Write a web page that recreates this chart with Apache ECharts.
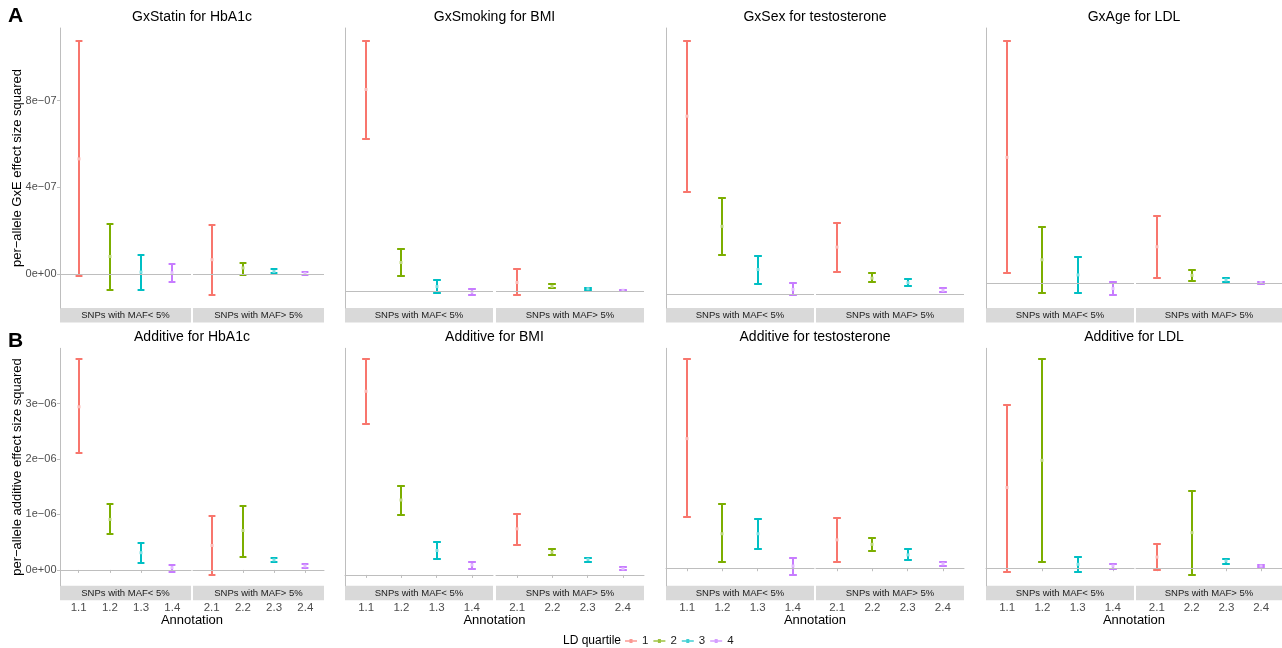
<!DOCTYPE html>
<html>
<head>
<meta charset="utf-8">
<script src="https://cdn.jsdelivr.net/npm/echarts@6/dist/echarts.min.js"></script>
<style>
html,body{margin:0;padding:0;background:#fff;}
#chart{width:1282px;height:648px;}
</style>
</head>
<body>
<div id="chart"></div>
<script>
// ---------- data ----------
const catsLowMAF = ['1.1', '1.2', '1.3', '1.4'];
const catsHighMAF = ['2.1', '2.2', '2.3', '2.4'];
const stripLabels = ['SNPs with MAF< 5%', 'SNPs with MAF> 5%'];
const ldQuartiles = ['1', '2', '3', '4'];

const gxStatinLo  = [-0.09e-7, -0.72e-7, -0.72e-7, -0.35e-7, -0.98e-7, -0.03e-7, 0.03e-7, -0.05e-7];
const gxStatinMid = [5.31e-7, 0.81e-7, 0.09e-7, 0.06e-7, 0.66e-7, 0.28e-7, 0.12e-7, 0.03e-7];
const gxStatinHi  = [10.76e-7, 2.31e-7, 0.89e-7, 0.44e-7, 2.26e-7, 0.53e-7, 0.21e-7, 0.09e-7];

const gxSmokingLo  = [6.99e-7, 0.67e-7, -0.11e-7, -0.17e-7, -0.20e-7, 0.12e-7, 0.05e-7, -0.02e-7];
const gxSmokingMid = [9.29e-7, 1.31e-7, 0.20e-7, -0.05e-7, 0.39e-7, 0.21e-7, 0.10e-7, 0.03e-7];
const gxSmokingHi  = [11.54e-7, 1.95e-7, 0.49e-7, 0.07e-7, 0.99e-7, 0.30e-7, 0.14e-7, 0.06e-7];

const gxSexLo  = [4.71e-7, 1.82e-7, 0.44e-7, -0.06e-7, 1.02e-7, 0.53e-7, 0.35e-7, 0.09e-7];
const gxSexMid = [8.20e-7, 3.12e-7, 1.13e-7, 0.21e-7, 2.16e-7, 0.73e-7, 0.52e-7, 0.17e-7];
const gxSexHi  = [11.68e-7, 4.42e-7, 1.77e-7, 0.49e-7, 3.29e-7, 0.95e-7, 0.67e-7, 0.26e-7];

const gxAgeLo  = [0.47e-7, -0.43e-7, -0.43e-7, -0.54e-7, 0.26e-7, 0.11e-7, 0.07e-7, 0.00];
const gxAgeMid = [5.83e-7, 1.10e-7, 0.40e-7, -0.23e-7, 1.70e-7, 0.38e-7, 0.17e-7, 0.05e-7];
const gxAgeHi  = [11.22e-7, 2.63e-7, 1.22e-7, 0.07e-7, 3.14e-7, 0.62e-7, 0.26e-7, 0.07e-7];

const addHbA1cLo  = [2.11e-6, 0.65e-6, 0.13e-6, -0.04e-6, -0.09e-6, 0.23e-6, 0.14e-6, 0.04e-6];
const addHbA1cMid = [2.94e-6, 0.91e-6, 0.31e-6, 0.04e-6, 0.44e-6, 0.71e-6, 0.18e-6, 0.07e-6];
const addHbA1cHi  = [3.80e-6, 1.18e-6, 0.49e-6, 0.09e-6, 0.97e-6, 1.16e-6, 0.22e-6, 0.11e-6];

const addBMILo  = [2.72e-6, 1.08e-6, 0.28e-6, 0.11e-6, 0.54e-6, 0.36e-6, 0.24e-6, 0.08e-6];
const addBMIMid = [3.31e-6, 1.35e-6, 0.44e-6, 0.18e-6, 0.83e-6, 0.41e-6, 0.28e-6, 0.11e-6];
const addBMIHi  = [3.89e-6, 1.61e-6, 0.59e-6, 0.24e-6, 1.09e-6, 0.47e-6, 0.31e-6, 0.14e-6];

const addTestoLo  = [0.92e-6, 0.12e-6, 0.35e-6, -0.12e-6, 0.12e-6, 0.31e-6, 0.15e-6, 0.04e-6];
const addTestoMid = [2.33e-6, 0.62e-6, 0.62e-6, 0.04e-6, 0.51e-6, 0.43e-6, 0.24e-6, 0.08e-6];
const addTestoHi  = [3.76e-6, 1.15e-6, 0.89e-6, 0.19e-6, 0.91e-6, 0.55e-6, 0.34e-6, 0.12e-6];

const addLDLLo  = [-0.06e-6, 0.12e-6, -0.06e-6, -0.02e-6, -0.04e-6, -0.12e-6, 0.08e-6, 0.02e-6];
const addLDLMid = [1.45e-6, 1.94e-6, 0.07e-6, 0.04e-6, 0.20e-6, 0.64e-6, 0.13e-6, 0.04e-6];
const addLDLHi  = [2.94e-6, 3.76e-6, 0.20e-6, 0.08e-6, 0.44e-6, 1.39e-6, 0.17e-6, 0.06e-6];

const rowATicks = [0, 4e-7, 8e-7];
const rowBTicks = [0, 1e-6, 2e-6, 3e-6];
const rowYTitles = ['per\u2212allele GxE effect size squared', 'per\u2212allele additive effect size squared'];
const rowLetters = ['A', 'B'];

// ---------- layout & style ----------
const colors = ['#F8766D', '#7CAE00', '#00BFC4', '#C77CFF'];
const pointColors = ['#FCBAB6', '#BED780', '#80DFE2', '#E3BEFF'];
const axisGrey = '#BEBEBE';
const FONT = 'Liberation Sans, Arial, Helvetica, sans-serif';
const colX = [[60, 191, 193, 324], [345, 493, 496, 644], [666, 814, 816, 964], [986, 1134, 1136, 1282]];
const rowY = [[28, 308], [348.3, 585.7]];
const stripH = 14.5;
const titleY = [16.7, 336.7];
const capWidth = 0.22;

const panels = [
  {title: 'GxStatin for HbA1c', lo: gxStatinLo, mid: gxStatinMid, hi: gxStatinHi, row: 0, col: 0},
  {title: 'GxSmoking for BMI', lo: gxSmokingLo, mid: gxSmokingMid, hi: gxSmokingHi, row: 0, col: 1},
  {title: 'GxSex for testosterone', lo: gxSexLo, mid: gxSexMid, hi: gxSexHi, row: 0, col: 2},
  {title: 'GxAge for LDL', lo: gxAgeLo, mid: gxAgeMid, hi: gxAgeHi, row: 0, col: 3},
  {title: 'Additive for HbA1c', lo: addHbA1cLo, mid: addHbA1cMid, hi: addHbA1cHi, row: 1, col: 0},
  {title: 'Additive for BMI', lo: addBMILo, mid: addBMIMid, hi: addBMIHi, row: 1, col: 1},
  {title: 'Additive for testosterone', lo: addTestoLo, mid: addTestoMid, hi: addTestoHi, row: 1, col: 2},
  {title: 'Additive for LDL', lo: addLDLLo, mid: addLDLMid, hi: addLDLHi, row: 1, col: 3}
];

function sci(v) {
  if (Math.abs(v) < 1e-15) return '0e+00';
  const parts = v.toExponential(0).split('e');
  const n = parseInt(parts[1], 10);
  return parts[0] + 'e' + (n < 0 ? '\u2212' : '+') + String(Math.abs(n)).padStart(2, '0');
}

function renderErrorBar(params, api) {
  const x = api.value(0), lo = api.value(1), mid = api.value(2), hi = api.value(3);
  const pLo = api.coord([x, lo]);
  const pHi = api.coord([x, hi]);
  const pMid = api.coord([x, mid]);
  const half = api.size([capWidth, 0])[0] / 2;
  const idx = Math.round(x) - 1;
  const stroke = colors[idx];
  const st = {stroke: stroke, lineWidth: 2, lineCap: 'butt'};
  const cx = Math.round(pLo[0]);
  const yLo = Math.round(pLo[1]), yHi = Math.round(pHi[1]);
  return {
    type: 'group',
    children: [
      {type: 'line', shape: {x1: cx, y1: yLo, x2: cx, y2: yHi}, style: st},
      {type: 'line', shape: {x1: cx - half, y1: yLo, x2: cx + half, y2: yLo}, style: st},
      {type: 'line', shape: {x1: cx - half, y1: yHi, x2: cx + half, y2: yHi}, style: st},
      {type: 'rect', shape: {x: cx - 1.5, y: pMid[1] - 1.5, width: 3, height: 3}, style: {fill: pointColors[idx]}}
    ]
  };
}

const grids = [], xAxes = [], yAxes = [], series = [], graphics = [];

panels.forEach(function (p) {
  const all = p.lo.concat(p.hi, [0]);
  const dmin = Math.min.apply(null, all), dmax = Math.max.apply(null, all);
  const pad = (dmax - dmin) * 0.05;
  const ymin = dmin - pad, ymax = dmax + pad;
  const cx = colX[p.col];
  const top = rowY[p.row][0], bottom = rowY[p.row][1];
  const ticks = p.row === 0 ? rowATicks : rowBTicks;

  for (let s = 0; s < 2; s++) {
    const g = grids.length;
    const x0 = cx[s * 2], x1 = cx[s * 2 + 1];
    grids.push({left: x0, top: top, width: x1 - x0, height: bottom - top, containLabel: false});
    const cats = s === 0 ? catsLowMAF : catsHighMAF;
    const showX = p.row === 1;
    xAxes.push({
      gridIndex: g, type: 'value', min: 0.4, max: 4.6,
      offset: showX ? stripH : 0,
      axisLine: {show: showX, lineStyle: {color: axisGrey, width: 1}},
      axisTick: {show: showX, customValues: [1, 2, 3, 4], length: 3, lineStyle: {color: axisGrey}},
      axisLabel: {show: showX, customValues: [1, 2, 3, 4], margin: 2,
        formatter: function (v) { return cats[Math.round(v) - 1]; },
        color: '#4D4D4D', fontSize: 11.5, fontFamily: FONT},
      splitLine: {show: false}
    });
    const showYLab = s === 0 && p.col === 0;
    yAxes.push({
      gridIndex: g, type: 'value', min: ymin, max: ymax,
      axisLine: {show: s === 0, lineStyle: {color: axisGrey, width: 1}},
      axisTick: {show: showYLab, customValues: ticks, length: 3, lineStyle: {color: axisGrey}},
      axisLabel: {show: showYLab, customValues: ticks, formatter: sci, margin: 3.5,
        color: '#4D4D4D', fontSize: 11, fontFamily: FONT},
      splitLine: {show: false}
    });
    // zero reference line
    series.push({
      type: 'line', xAxisIndex: g, yAxisIndex: g, data: [[1, 0]], showSymbol: false, silent: true,
      z: 1, animation: false, lineStyle: {opacity: 0},
      markLine: {silent: true, symbol: ['none', 'none'], label: {show: false}, animation: false,
        lineStyle: {color: axisGrey, width: 1, type: 'solid'}, data: [{yAxis: 0}]}
    });
    for (let q = 0; q < 4; q++) {
      const i = s * 4 + q;
      series.push({
        type: 'custom', name: ldQuartiles[q], xAxisIndex: g, yAxisIndex: g, z: 3,
        color: colors[q], itemStyle: {color: colors[q]},
        renderItem: renderErrorBar, animation: false,
        encode: {x: 0, y: [1, 2, 3]},
        data: [[q + 1, p.lo[i], p.mid[i], p.hi[i]]]
      });
    }
    // strip
    graphics.push({type: 'rect', shape: {x: x0, y: bottom, width: x1 - x0, height: stripH},
      style: {fill: '#D9D9D9'}, silent: true});
    graphics.push({type: 'text', x: (x0 + x1) / 2, y: bottom + stripH / 2 + 0.5,
      style: {text: stripLabels[s], fill: '#1A1A1A', font: '9.5px ' + FONT, align: 'center', verticalAlign: 'middle'}, silent: true});
  }
  // panel title
  graphics.push({type: 'text', x: (cx[0] + cx[3]) / 2, y: titleY[p.row],
    style: {text: p.title, fill: '#000', font: '14px ' + FONT, align: 'center', verticalAlign: 'middle'}, silent: true});
  if (p.row === 1) {
    graphics.push({type: 'text', x: (cx[0] + cx[3]) / 2, y: 620.5,
      style: {text: 'Annotation', fill: '#000', font: '13px ' + FONT, align: 'center', verticalAlign: 'middle'}, silent: true});
  }
});

// row letters and y titles
[0, 1].forEach(function (r) {
  graphics.push({type: 'text', x: 15.5, y: r === 0 ? 16.5 : 341.3,
    style: {text: rowLetters[r], fill: '#000', font: 'bold 21px ' + FONT, align: 'center', verticalAlign: 'middle'}, silent: true});
  graphics.push({type: 'text', x: 17.5, y: (rowY[r][0] + rowY[r][1]) / 2, rotation: Math.PI / 2,
    style: {text: rowYTitles[r], fill: '#000', font: '13px ' + FONT, align: 'center', verticalAlign: 'middle'}, silent: true});
});
graphics.push({type: 'text', x: 563, y: 640.5,
  style: {text: 'LD quartile', fill: '#000', font: '12px ' + FONT, align: 'left', verticalAlign: 'middle'}, silent: true});

const legendIcon = 'path://M0,1.3h12v1.4h-12z M4.5,0h3v4h-3z';

const chart = echarts.init(document.getElementById('chart'), null, {renderer: 'canvas'});
chart.setOption({
  animation: false,
  backgroundColor: '#fff',
  grid: grids,
  xAxis: xAxes,
  yAxis: yAxes,
  series: series,
  legend: {
    data: ldQuartiles.map(function (n) { return {name: n, icon: legendIcon}; }),
    left: 625, top: 635, padding: 0, itemWidth: 12, itemHeight: 4, itemGap: 5,
    selectedMode: false,
    itemStyle: {opacity: 0.75},
    textStyle: {fontSize: 11.5, color: '#1A1A1A', fontFamily: FONT}
  },
  graphic: {elements: graphics}
});
</script>
</body>
</html>
